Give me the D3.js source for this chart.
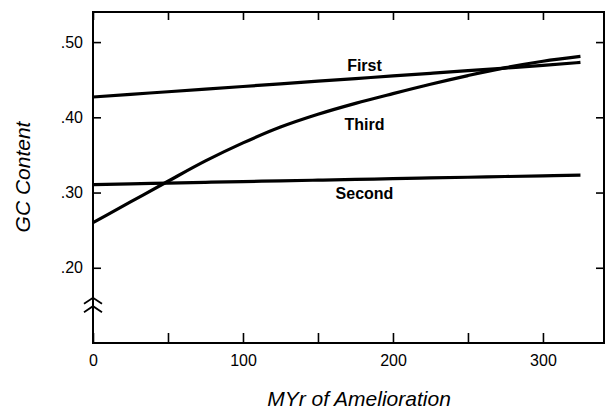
<!DOCTYPE html>
<html>
<head>
<meta charset="utf-8">
<script src="https://cdn.jsdelivr.net/npm/d3@7"></script>
<style>
  body { margin: 0; background: #fff; }
  text { font-family: "Liberation Sans", Arial, Helvetica, sans-serif; fill: #000; }
</style>
</head>
<body>
<div id="chart"></div>
<script>
// MYr of amelioration
const years = [0, 25, 50, 75, 100, 125, 150, 175, 200, 225, 250, 275, 300, 325];
// codon position GC content
const firstGC  = [0.427, 0.4305, 0.434, 0.4375, 0.441, 0.4445, 0.448, 0.4515, 0.455, 0.4585, 0.462, 0.4655, 0.469, 0.473];
const secondGC = [0.3106, 0.3116, 0.3126, 0.3136, 0.3146, 0.3155, 0.3165, 0.3175, 0.3184, 0.3194, 0.3203, 0.3213, 0.3222, 0.3232];
const thirdGC  = [0.260, 0.2875, 0.315, 0.342, 0.366, 0.387, 0.404, 0.4185, 0.4315, 0.444, 0.4555, 0.466, 0.4745, 0.481];
const seriesNames = ["First", "Second", "Third"];
const xTicks = [0, 50, 100, 150, 200, 250, 300];
const yTicks = [0.20, 0.30, 0.40, 0.50];

const W = 606, H = 410;
const margin = { top: 12, right: 2, bottom: 67, left: 93 };
const width = W - margin.left - margin.right,
      height = H - margin.top - margin.bottom;

const svg = d3.select("#chart")
    .append("svg")
    .attr("width", W)
    .attr("height", H)
    .append("g")
    .attr("transform", "translate(" + margin.left + "," + margin.top + ")");

const x = d3.scaleLinear().domain([0, 340.7]).range([0, width]);
const y = d3.scaleLinear().domain([0.10, 0.54]).range([height, 0]);

// frame
svg.append("rect")
    .attr("width", width)
    .attr("height", height)
    .attr("fill", "none")
    .attr("stroke", "#000")
    .attr("stroke-width", 2);

function styleAxis(g) {
    g.select(".domain").remove();
    g.selectAll(".tick line").attr("stroke", "#000").attr("stroke-width", 1.6);
    g.selectAll(".tick text").attr("font-size", 16).attr("fill", "#000");
}

svg.append("g")
    .attr("transform", "translate(0," + height + ")")
    .call(d3.axisBottom(x).tickValues(xTicks).tickSize(-10).tickPadding(12)
        .tickFormat(d => d % 100 === 0 ? d : ""))
    .call(styleAxis);

svg.append("g")
    .call(d3.axisTop(x).tickValues(xTicks).tickSize(-8).tickFormat(""))
    .call(styleAxis);

svg.append("g")
    .call(d3.axisLeft(y).tickValues(yTicks).tickSize(-8).tickPadding(10)
        .tickFormat(d => d3.format(".2f")(d).replace(/^0/, "")))
    .call(styleAxis);

svg.append("g")
    .attr("transform", "translate(" + width + ",0)")
    .call(d3.axisRight(y).tickValues(yTicks).tickSize(-8).tickFormat(""))
    .call(styleAxis);

// axis break mark
[0.160, 0.149].forEach(function (v) {
    const py = y(v);
    svg.append("path")
        .attr("d", "M-9," + (py + 6) + " L0," + py + " L9," + (py + 6))
        .attr("fill", "none")
        .attr("stroke", "#000")
        .attr("stroke-width", 1.8);
});

const line = d3.line()
    .x((d, i) => x(years[i]))
    .y(d => y(d))
    .curve(d3.curveMonotoneX);

[firstGC, secondGC, thirdGC].forEach(function (s) {
    svg.append("path")
        .datum(s)
        .attr("fill", "none")
        .attr("stroke", "#000")
        .attr("stroke-width", 3.2)
        .attr("d", line);
});

// series labels
const labelAt = [[181, 0.4614], [181, 0.2914], [181, 0.383]];
seriesNames.forEach(function (name, i) {
    svg.append("text")
        .attr("x", x(labelAt[i][0]))
        .attr("y", y(labelAt[i][1]))
        .attr("text-anchor", "middle")
        .attr("font-size", 16)
        .attr("font-weight", "bold")
        .text(name);
});

// axis titles
svg.append("text")
    .attr("x", 359 - margin.left)
    .attr("y", 406 - margin.top)
    .attr("text-anchor", "middle")
    .attr("font-size", 21)
    .attr("font-style", "italic")
    .text("MYr of Amelioration");

svg.append("text")
    .attr("transform", "translate(" + (30 - margin.left) + "," + (177 - margin.top) + ") rotate(-90)")
    .attr("text-anchor", "middle")
    .attr("font-size", 21)
    .attr("font-style", "italic")
    .text("GC Content");
</script>
</body>
</html>
